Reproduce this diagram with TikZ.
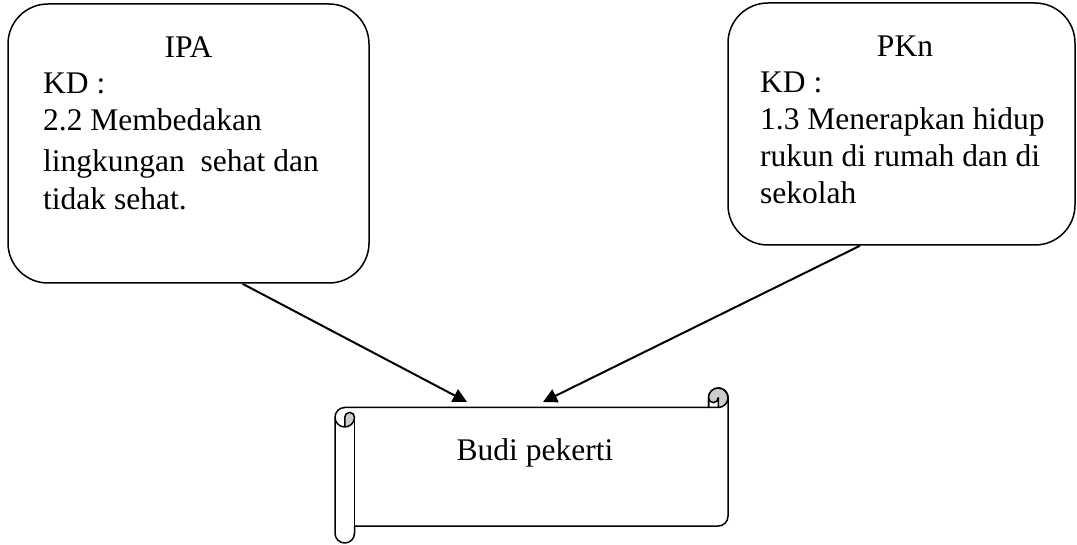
\documentclass[tikz,border=0pt]{standalone}
\usepackage{fontspec}
\setmainfont{Liberation Serif}
\usetikzlibrary{arrows.meta,calc}
\begin{document}
\begin{tikzpicture}[x=1pt,y=1pt,
  bubble/.style={draw=black, line width=1.5pt, rounded corners=40pt, fill=white, inner sep=0pt},
  txt/.style={inner sep=0pt, anchor=base west, font=\fontsize{31.5}{37}\selectfont},
  ctxt/.style={inner sep=0pt, anchor=base, font=\fontsize{31.5}{37}\selectfont},
  arr/.style={line width=2pt, -{Triangle[length=14pt,width=14pt]}},
  scrollline/.style={line width=1.5pt, line join=round},
  curl/.style={fill=black!20}
]
\useasboundingbox (0,0) rectangle (1077,544);

% left box
\node[bubble, minimum width=361pt, minimum height=279pt] (ipa) at (188.5,400.5) {};
\node[ctxt] (ipat) at (188.5,486) {IPA};
\node[txt] (ipa1) at (43,450) {KD :};
\node[txt] (ipa2) at (43,413) {2.2 Membedakan};
\node[txt] (ipa3) at (43,372) {lingkungan\ \ sehat dan};
\node[txt] (ipa4) at (43,334) {tidak sehat.};

% right box
\node[bubble, minimum width=347pt, minimum height=242pt] (pkn) at (901.5,420) {};
\node[ctxt] (pknt) at (905,487) {PKn};
\node[txt] (pkn1) at (760,451) {KD :};
\node[txt] (pkn2) at (760,414) {1.3 Menerapkan hidup};
\node[txt] (pkn3) at (760,377) {rukun di rumah dan di};
\node[txt] (pkn4) at (760,340) {sekolah};

% scroll
\filldraw[scrollline, fill=white]
  (335,126.75) arc[start angle=180, end angle=90, radius=9.75]
  -- (708.5,136.5) -- (708.5,146.25)
  arc[start angle=180, end angle=0, radius=9.75]
  -- (728,27.75)
  arc[start angle=0, end angle=-90, radius=9.75]
  -- (354.5,18) -- (354.5,10.75)
  arc[start angle=0, end angle=-180, radius=9.75]
  -- cycle;
\fill[curl] (344.75,117) arc[start angle=-90, end angle=0, radius=9.75]
  arc[start angle=0, end angle=180, radius=4.875] -- cycle;
\fill[curl] (718.25,136.5) arc[start angle=-90, end angle=180, radius=9.75]
  arc[start angle=180, end angle=360, radius=4.875] -- cycle;
\draw[scrollline] (708.5,136.5) -- (718.25,136.5) arc[start angle=-90, end angle=90, radius=9.75];
\draw[scrollline] (718.25,136.5) -- (718.25,146.25) arc[start angle=0, end angle=-180, radius=4.875];
\draw[scrollline] (344.75,117) -- (344.75,126.75) arc[start angle=180, end angle=0, radius=4.875]
  arc[start angle=0, end angle=-180, radius=9.75];
\draw[scrollline] (354.5,126.75) -- (354.5,18);
\draw[scrollline] (708.5,136.5) -- (708.5,146.25) arc[start angle=180, end angle=0, radius=9.75];

\node[ctxt] (budi) at (535,83) {Budi pekerti};

% connectors
\coordinate (tipL) at (467,142);
\coordinate (tipR) at (543,142);
\draw[arr] ([xshift=54pt]ipa.south) -- (tipL);
\draw[arr] ([xshift=-41.5pt]pkn.south) -- (tipR);
\end{tikzpicture}
\end{document}
